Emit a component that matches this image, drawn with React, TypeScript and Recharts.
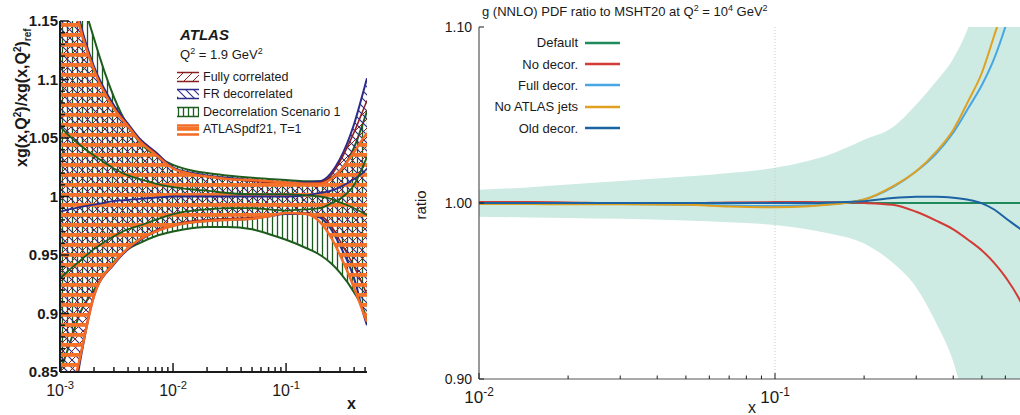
import React from "react";
import { ComposedChart, Area, Line, XAxis, YAxis, ReferenceLine, Legend } from "recharts";

const SANS = '"Liberation Sans", Arial, Helvetica, sans-serif';
const INK = "#1a1a1a";

// ---------- left panel: ATLAS, Q^2 = 1.9 GeV^2 ----------
const atlasX = [0.001, 0.0012, 0.0015, 0.002, 0.003, 0.004, 0.005, 0.007, 0.01, 0.015, 0.02, 0.03, 0.05, 0.07, 0.1, 0.15, 0.2, 0.25, 0.3, 0.4, 0.5, 0.52];

const scen1Low = [0.85, 0.872, 0.9, 0.92, 0.944, 0.955, 0.96, 0.966, 0.97, 0.973, 0.974, 0.974, 0.972, 0.968, 0.963, 0.956, 0.95, 0.943, 0.935, 0.918, 0.9, 0.895];
const scen1High = [1.3, 1.24, 1.18, 1.135, 1.085, 1.06, 1.047, 1.035, 1.027, 1.022, 1.02, 1.018, 1.016, 1.015, 1.014, 1.013, 1.013, 1.016, 1.022, 1.042, 1.068, 1.073];
const frLow = [0.76, 0.8, 0.858, 0.915, 0.942, 0.955, 0.962, 0.97, 0.975, 0.978, 0.979, 0.98, 0.981, 0.983, 0.985, 0.985, 0.982, 0.972, 0.958, 0.93, 0.895, 0.89];
const frHigh = [1.25, 1.2, 1.15, 1.111, 1.078, 1.062, 1.05, 1.038, 1.025, 1.02, 1.018, 1.016, 1.014, 1.013, 1.012, 1.012, 1.013, 1.02, 1.032, 1.062, 1.095, 1.101];
const corrLow = [0.77, 0.81, 0.862, 0.917, 0.943, 0.956, 0.963, 0.971, 0.976, 0.979, 0.98, 0.981, 0.982, 0.984, 0.986, 0.986, 0.984, 0.975, 0.962, 0.94, 0.92, 0.916];
const corrHigh = [1.24, 1.19, 1.145, 1.108, 1.076, 1.061, 1.049, 1.037, 1.024, 1.019, 1.017, 1.015, 1.013, 1.012, 1.011, 1.011, 1.012, 1.018, 1.03, 1.055, 1.078, 1.082];
const pdfLow = [0.78, 0.82, 0.862, 0.915, 0.943, 0.956, 0.963, 0.97, 0.975, 0.978, 0.979, 0.98, 0.981, 0.983, 0.986, 0.985, 0.978, 0.965, 0.95, 0.922, 0.897, 0.893];
const pdfHigh = [1.24, 1.19, 1.145, 1.108, 1.075, 1.06, 1.048, 1.036, 1.024, 1.019, 1.017, 1.015, 1.014, 1.013, 1.012, 1.011, 1.011, 1.015, 1.022, 1.038, 1.052, 1.054];
// inner curves visible through the hatching
const frCentral = [0.987, 0.989, 0.991, 0.993, 0.996, 0.997, 0.998, 0.999, 1.0, 1.0, 1.0, 1.0, 1.0, 1.0, 1.0, 1.001, 1.003, 1.005, 1.008, 1.015, 1.022, 1.024];
const scen1InnerUp = [1.06, 1.052, 1.044, 1.035, 1.024, 1.018, 1.015, 1.011, 1.008, 1.006, 1.005, 1.003, 1.002, 1.002, 1.002, 1.001, 1.0, 0.998, 0.995, 0.99, 0.985, 0.984];
const scen1InnerDn = [0.93, 0.937, 0.945, 0.955, 0.966, 0.972, 0.975, 0.98, 0.985, 0.988, 0.989, 0.99, 0.99, 0.989, 0.988, 0.989, 0.99, 0.994, 0.998, 1.01, 1.03, 1.034];

const atlasLegend = ["Fully correlated", "FR decorrelated", "Decorrelation Scenario 1", "ATLASpdf21, T=1"];

// ---------- right panel: g (NNLO) ratio to MSHT20 ----------
const mshtX = [0.01, 0.015, 0.02, 0.03, 0.05, 0.07, 0.1, 0.13, 0.15, 0.2, 0.25, 0.3, 0.35, 0.4, 0.45, 0.5, 0.55, 0.6, 0.7, 0.8, 1.0];
const bandLow = [0.9922, 0.9918, 0.9915, 0.991, 0.99, 0.989, 0.9875, 0.985, 0.983, 0.977, 0.966, 0.952, 0.932, 0.91, 0.878, 0.845, 0.8, 0.76, 0.7, 0.6, 0.5];
const bandHigh = [1.0075, 1.009, 1.0105, 1.0125, 1.015, 1.017, 1.02, 1.024, 1.027, 1.036, 1.043, 1.056, 1.069, 1.082, 1.1, 1.125, 1.16, 1.2, 1.3, 1.4, 1.6];
const defaultFit = [1, 1, 1, 1, 1, 1, 1, 1, 1, 1, 1, 1, 1, 1, 1, 1, 1, 1, 1, 1, 1];
const noDecor = [1.0005, 1.0005, 1.0003, 1.0, 1.0, 1.0003, 1.0005, 1.0005, 1.0004, 1.0, 0.999, 0.995, 0.99, 0.985, 0.979, 0.973, 0.966, 0.958, 0.938, 0.905, 0.8];
const fullDecor = [1.0, 0.9998, 0.9996, 0.9995, 0.999, 0.9986, 0.9983, 0.9987, 0.9992, 1.002, 1.009, 1.018, 1.028, 1.04, 1.054, 1.067, 1.082, 1.1, 1.14, 1.19, 1.3];
const noAtlasJets = [0.9995, 0.9994, 0.9993, 0.9993, 0.999, 0.998, 0.9976, 0.9982, 0.999, 1.002, 1.0095, 1.018, 1.029, 1.0415, 1.058, 1.074, 1.095, 1.115, 1.16, 1.21, 1.35];
const oldDecor = [1.0, 1.0, 1.0, 1.0, 1.0, 1.0, 1.0, 1.0, 1.0003, 1.001, 1.0028, 1.0035, 1.0036, 1.003, 1.0018, 0.9998, 0.9963, 0.9915, 0.983, 0.974, 0.955];

const mshtSeries = [
  { key: "defaultFit", name: "Default", color: "#1f8a5c" },
  { key: "noDecor", name: "No decor.", color: "#d23b36" },
  { key: "fullDecor", name: "Full decor.", color: "#48a6e4" },
  { key: "noAtlasJets", name: "No ATLAS jets", color: "#e0a020" },
  { key: "oldDecor", name: "Old decor.", color: "#1b63a3" },
];

const atlasRows = atlasX.map((x, i) => ({
  x,
  scen1: [scen1Low[i], scen1High[i]],
  fr: [frLow[i], frHigh[i]],
  corr: [corrLow[i], corrHigh[i]],
  pdf: [pdfLow[i], pdfHigh[i]],
  frMid: frCentral[i],
  scen1Up: scen1InnerUp[i],
  scen1Dn: scen1InnerDn[i],
}));

const mshtRows = mshtX.map((x, i) => ({
  x,
  band: [bandLow[i], bandHigh[i]],
  defaultFit: defaultFit[i],
  noDecor: noDecor[i],
  fullDecor: fullDecor[i],
  noAtlasJets: noAtlasJets[i],
  oldDecor: oldDecor[i],
}));

// ---------- ticks ----------
const isDecade = (v: number) => Math.abs(Math.log10(v) - Math.round(Math.log10(v))) < 1e-6;
const logTicks = (lo: number, hi: number, max: number) => {
  const t: number[] = [];
  for (let e = lo; e <= hi; e++)
    for (let m = 1; m <= 9; m++) {
      const v = +(m * Math.pow(10, e)).toPrecision(3);
      if (v <= max * 1.0001) t.push(v);
    }
  return t;
};
const atlasXTicks = logTicks(-3, -1, 0.52);
const mshtXTicks = logTicks(-2, 0, 1);
const atlasYTicks: number[] = [];
for (let k = 85; k <= 115; k++) atlasYTicks.push(k / 100);
const mshtYTicks = [0.9, 1.0, 1.1];

// ticks drawn pointing into the frame; only negative decades get a label
const xTick = (side: "top" | "bottom", big: number, small: number, font: number, dy: number, w: number) => (p: any) => {
  const v = p.payload.value;
  const major = isDecade(v);
  const len = major ? big : small;
  const e = Math.round(Math.log10(v));
  return (
    <g>
      <line x1={p.x} x2={p.x} y1={p.y} y2={side === "bottom" ? p.y - len : p.y + len} stroke={INK} strokeWidth={w} />
      {side === "bottom" && major && e < 0 && (
        <text x={p.x} y={p.y + dy} textAnchor="middle" fontSize={font} fontFamily={SANS} fill={INK}>
          10
          <tspan dy={-font * 0.42} fontSize={font * 0.7}>
            {e}
          </tspan>
        </text>
      )}
    </g>
  );
};

const yTick = (
  side: "left" | "right",
  isMajor: (v: number) => boolean,
  fmt: (v: number) => string,
  big: number,
  small: number,
  font: number,
  gap: number,
  w: number,
  bold: boolean
) => (p: any) => {
  const v = p.payload.value;
  const major = isMajor(v);
  const len = major ? big : small;
  return (
    <g>
      <line y1={p.y} y2={p.y} x1={p.x} x2={side === "left" ? p.x + len : p.x - len} stroke={INK} strokeWidth={w} />
      {side === "left" && major && (
        <text x={p.x - gap} y={p.y} dy="0.36em" textAnchor="end" fontSize={font} fontWeight={bold ? 700 : 400} fontFamily={SANS} fill={INK}>
          {fmt(v)}
        </text>
      )}
    </g>
  );
};

const atlasMajorY = (v: number) => Math.abs(v * 20 - Math.round(v * 20)) < 1e-6;
const atlasFmt = (v: number) => String(+v.toFixed(2));

const hatchFill: Record<string, string> = {
  corr: "url(#hatchCorr)",
  fr: "url(#hatchFR)",
  scen1: "url(#hatchScen1)",
  pdf: "url(#hatchPdf)",
};
const edgeColor: Record<string, string> = {
  corr: "#8a1f1f",
  fr: "#2b2b8c",
  scen1: "#1d5c1d",
  pdf: "#f36b25",
};
const legendKeys = ["corr", "fr", "scen1", "pdf"];

const AtlasLegend = () => (
  <div style={{ fontFamily: SANS, color: INK, lineHeight: 1 }}>
    <div style={{ fontSize: 15, fontWeight: 700, fontStyle: "italic", marginLeft: 4, height: 20 }}>ATLAS</div>
    <div style={{ fontSize: 13, marginLeft: 4, height: 21 }}>
      Q<sup style={{ fontSize: 9 }}>2</sup> = 1.9 GeV<sup style={{ fontSize: 9 }}>2</sup>
    </div>
    {atlasLegend.map((name, i) => {
      const k = legendKeys[i];
      return (
        <div key={name} style={{ display: "flex", alignItems: "center", height: 17.6, fontSize: 12.5 }}>
          <svg width={24} height={12} style={{ marginRight: 3 }}>
            <rect x={1} y={1} width={22} height={10} fill={hatchFill[k]} />
            <line x1={1} x2={23} y1={1.5} y2={1.5} stroke={edgeColor[k]} strokeWidth={k === "pdf" ? 2.5 : 1.5} />
            <line x1={1} x2={23} y1={10.5} y2={10.5} stroke={edgeColor[k]} strokeWidth={k === "pdf" ? 2.5 : 1.5} />
          </svg>
          <span>{name}</span>
        </div>
      );
    })}
  </div>
);

const AtlasPanel = () => (
  <ComposedChart width={380} height={415} data={atlasRows} margin={{ top: 21, right: 13, bottom: 0, left: 0 }}>
    <defs>
      <pattern id="hatchScen1" width="5" height="5" patternUnits="userSpaceOnUse">
        <line x1="2.5" y1="0" x2="2.5" y2="5" stroke="#1d5a1d" strokeWidth="1.3" />
      </pattern>
      <pattern id="hatchFR" width="8" height="8" patternUnits="userSpaceOnUse">
        <path d="M-1,-1 L9,9 M-1,7 L1,9 M7,-1 L9,1" stroke="#2a2a88" strokeWidth="1.1" />
      </pattern>
      <pattern id="hatchCorr" width="9" height="9" patternUnits="userSpaceOnUse">
        <path d="M-1,10 L10,-1 M-1,1 L1,-1 M8,10 L10,8" stroke="#8a1f1f" strokeWidth="1" />
      </pattern>
      <pattern id="hatchPdf" width="10" height="10" patternUnits="userSpaceOnUse">
        <rect x="0" y="3" width="10" height="3.8" fill="#f47328" />
      </pattern>
    </defs>
    <XAxis
      dataKey="x"
      type="number"
      scale="log"
      domain={[0.001, 0.52]}
      allowDataOverflow
      ticks={atlasXTicks}
      interval={0}
      height={43}
      tickSize={0}
      tickMargin={0}
      tickLine={false}
      axisLine={{ stroke: INK, strokeWidth: 2 }}
      tick={xTick("bottom", 9, 5, 16, 24, 1.5)}
      label={(props: any) => (
        <text x={props.viewBox.x + props.viewBox.width - 20} y={props.viewBox.y + 37} fontSize={16} fontWeight={700} fontFamily={SANS} fill={INK}>
          x
        </text>
      )}
    />
    <XAxis
      xAxisId="top"
      dataKey="x"
      orientation="top"
      type="number"
      scale="log"
      domain={[0.001, 0.52]}
      allowDataOverflow
      ticks={atlasXTicks}
      interval={0}
      height={0}
      tickSize={0}
      tickMargin={0}
      tickLine={false}
      axisLine={{ stroke: INK, strokeWidth: 2 }}
      tick={xTick("top", 9, 5, 16, 0, 1.5)}
    />
    <YAxis
      type="number"
      domain={[0.85, 1.15]}
      allowDataOverflow
      ticks={atlasYTicks}
      interval={0}
      width={60}
      tickSize={0}
      tickMargin={0}
      tickLine={false}
      axisLine={{ stroke: INK, strokeWidth: 2 }}
      tick={yTick("left", atlasMajorY, atlasFmt, 9, 5, 15, 2, 1.5, true)}
      label={() => (
        <text transform="translate(27,167) rotate(-90)" fontSize={16} fontWeight={700} fontFamily={SANS} fill={INK}>
          xg(x,Q<tspan dy={-6} fontSize={10}>2</tspan>
          <tspan dy={6}>)/xg(x,Q</tspan>
          <tspan dy={-6} fontSize={10}>2</tspan>
          <tspan dy={6}>)</tspan>
          <tspan dy={4} fontSize={10}>ref</tspan>
        </text>
      )}
    />
    <YAxis
      yAxisId="right"
      orientation="right"
      type="number"
      domain={[0.85, 1.15]}
      allowDataOverflow
      ticks={atlasYTicks}
      interval={0}
      width={0}
      tickSize={0}
      tickMargin={0}
      tickLine={false}
      axisLine={{ stroke: INK, strokeWidth: 2 }}
      tick={yTick("right", atlasMajorY, atlasFmt, 9, 5, 15, 2, 1.5, true)}
    />
    <Area dataKey="scen1" type="monotone" fill="url(#hatchScen1)" fillOpacity={1} stroke="#1d5c1d" strokeWidth={2} isAnimationActive={false} />
    <Area dataKey="fr" type="monotone" fill="url(#hatchFR)" fillOpacity={1} stroke="#2b2b8c" strokeWidth={2} isAnimationActive={false} />
    <Area dataKey="corr" type="monotone" fill="url(#hatchCorr)" fillOpacity={1} stroke="#8a1f1f" strokeWidth={1.5} isAnimationActive={false} />
    <Area dataKey="pdf" type="monotone" fill="url(#hatchPdf)" fillOpacity={1} stroke="#f36b25" strokeWidth={2.5} isAnimationActive={false} />
    <Line dataKey="frMid" type="monotone" stroke="#2b2b8c" strokeWidth={1.8} dot={false} isAnimationActive={false} />
    <Line dataKey="scen1Up" type="monotone" stroke="#1d5c1d" strokeWidth={1.8} dot={false} isAnimationActive={false} />
    <Line dataKey="scen1Dn" type="monotone" stroke="#1d5c1d" strokeWidth={1.8} dot={false} isAnimationActive={false} />
    <Line xAxisId="top" yAxisId="right" dataKey="frMid" stroke="none" dot={false} legendType="none" isAnimationActive={false} />
    <Legend layout="vertical" align="center" verticalAlign="middle" wrapperStyle={{ left: 176, top: 27, width: 190 }} content={() => <AtlasLegend />} />
  </ComposedChart>
);

const MshtLegend = () => (
  <div style={{ fontFamily: SANS, color: INK }}>
    {mshtSeries.map((s) => (
      <div key={s.key} style={{ display: "flex", alignItems: "center", height: 21.4 }}>
        <span style={{ width: 98, textAlign: "right", fontSize: 13 }}>{s.name}</span>
        <svg width={43} height={6}>
          <line x1={7} x2={42} y1={3} y2={3} stroke={s.color} strokeWidth={2.5} />
        </svg>
      </div>
    ))}
  </div>
);

const mshtMajorY = () => true;
const mshtFmt = (v: number) => v.toFixed(2);

const MshtPanel = () => (
  <div style={{ position: "relative" }}>
    <div style={{ position: "absolute", left: 82, top: 3, fontSize: 13, fontFamily: SANS, color: INK, whiteSpace: "nowrap", zIndex: 2 }}>
      g (NNLO) PDF ratio to MSHT20 at Q<sup style={{ fontSize: 9 }}>2</sup> = 10<sup style={{ fontSize: 9 }}>4</sup> GeV<sup style={{ fontSize: 9 }}>2</sup>
    </div>
    <ComposedChart width={679} height={415} data={mshtRows} margin={{ top: 27, right: 8, bottom: 0, left: 0 }}>
      <XAxis
        dataKey="x"
        type="number"
        scale="log"
        domain={[0.01, 1]}
        allowDataOverflow
        ticks={mshtXTicks}
        interval={0}
        height={36}
        tickSize={0}
        tickMargin={0}
        tickLine={false}
        axisLine={{ stroke: "#555", strokeWidth: 1.2 }}
        tick={xTick("bottom", 6, 3.5, 17, 24, 1)}
        label={(props: any) => (
          <text x={props.viewBox.x + 269} y={props.viewBox.y + 34} fontSize={16} fontFamily={SANS} fill={INK}>
            x
          </text>
        )}
      />
      <XAxis
        xAxisId="top"
        dataKey="x"
        orientation="top"
        type="number"
        scale="log"
        domain={[0.01, 1]}
        allowDataOverflow
        ticks={mshtXTicks}
        interval={0}
        height={0}
        tickSize={0}
        tickMargin={0}
        tickLine={false}
        axisLine={{ stroke: "#555", strokeWidth: 1.2 }}
        tick={xTick("top", 6, 3.5, 17, 0, 1)}
      />
      <YAxis
        type="number"
        domain={[0.9, 1.1]}
        allowDataOverflow
        ticks={mshtYTicks}
        interval={0}
        width={79}
        tickSize={0}
        tickMargin={0}
        tickLine={false}
        axisLine={{ stroke: "#555", strokeWidth: 1.2 }}
        tick={yTick("left", mshtMajorY, mshtFmt, 5, 3, 14, 7, 1, false)}
        label={() => (
          <text transform="translate(26,205) rotate(-90)" textAnchor="middle" fontSize={15} fontFamily={SANS} fill={INK}>
            ratio
          </text>
        )}
      />
      <YAxis
        yAxisId="right"
        orientation="right"
        type="number"
        domain={[0.9, 1.1]}
        allowDataOverflow
        ticks={mshtYTicks}
        interval={0}
        width={0}
        tickSize={0}
        tickMargin={0}
        tickLine={false}
        axisLine={{ stroke: "#555", strokeWidth: 1.2 }}
        tick={yTick("right", mshtMajorY, mshtFmt, 5, 3, 14, 7, 1, false)}
      />
      <Area dataKey="band" type="monotone" fill="#cdebe2" fillOpacity={1} stroke="none" isAnimationActive={false} />
      <ReferenceLine x={0.1} stroke="#c9c9c9" strokeDasharray="1 2" />
      {mshtSeries.map((s) => (
        <Line key={s.key} dataKey={s.key} type="monotone" stroke={s.color} strokeWidth={2} dot={false} isAnimationActive={false} />
      ))}
      <Line xAxisId="top" yAxisId="right" dataKey="defaultFit" stroke="none" dot={false} legendType="none" isAnimationActive={false} />
      <Legend layout="vertical" align="center" verticalAlign="middle" wrapperStyle={{ left: 80, top: 32, width: 150 }} content={() => <MshtLegend />} />
    </ComposedChart>
  </div>
);

export default function App() {
  return (
    <div style={{ position: "absolute", left: 0, top: 0, width: 1020, height: 415, overflow: "hidden", background: "#fff", fontFamily: SANS }}>
      <div style={{ position: "absolute", left: 0, top: 0 }}>
        <AtlasPanel />
      </div>
      <div style={{ position: "absolute", left: 400, top: 0 }}>
        <MshtPanel />
      </div>
    </div>
  );
}
